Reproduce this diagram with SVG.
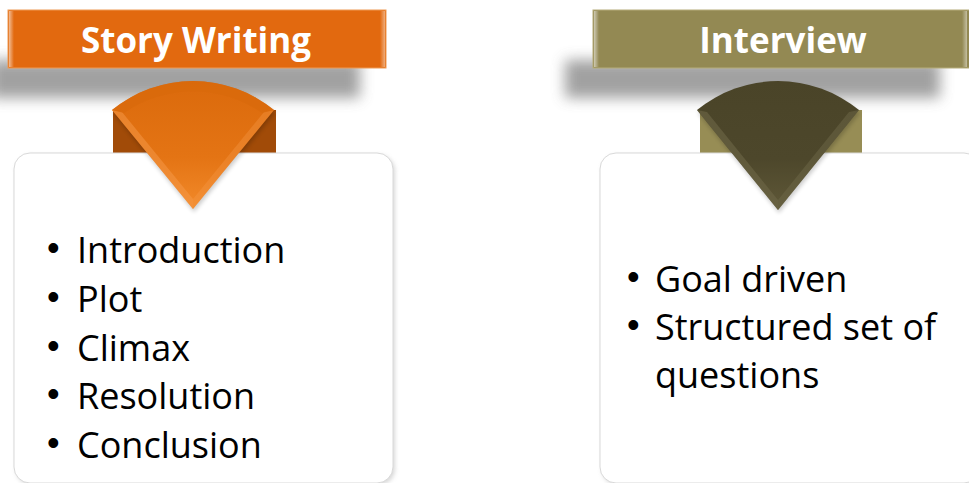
<svg xmlns="http://www.w3.org/2000/svg" width="969" height="483" viewBox="0 0 969 483">
<defs>
<style>
.hdr{font-family:"Open Sans","Liberation Sans",sans-serif;font-weight:bold;font-size:35px;fill:#ffffff;text-anchor:middle}
.item{font-family:"Open Sans","Liberation Sans",sans-serif;font-size:36px;fill:#000000}
.bul{font-family:"Liberation Sans",Arial,sans-serif}
.box{fill:#ffffff;stroke:#d9d9d9;stroke-width:1}
</style>
<filter id="blur" x="-20%" y="-50%" width="140%" height="200%"><feGaussianBlur stdDeviation="7"/></filter>
<filter id="soft" x="-10%" y="-10%" width="120%" height="120%"><feGaussianBlur stdDeviation="2"/></filter>
<linearGradient id="bevelL" x1="0" y1="0" x2="1" y2="0"><stop offset="0" stop-color="#ffffff" stop-opacity="0.55"/><stop offset="1" stop-color="#ffffff" stop-opacity="0"/></linearGradient>
<linearGradient id="bevelR" x1="1" y1="0" x2="0" y2="0"><stop offset="0" stop-color="#ffffff" stop-opacity="0.45"/><stop offset="1" stop-color="#ffffff" stop-opacity="0"/></linearGradient>
<linearGradient id="orFan" x1="0" y1="0" x2="0" y2="1"><stop offset="0" stop-color="#DB6A0C"/><stop offset="0.6" stop-color="#E47414"/><stop offset="1" stop-color="#F28A2A"/></linearGradient>
<linearGradient id="olFan" x1="0" y1="0" x2="0" y2="1"><stop offset="0" stop-color="#4A4428"/><stop offset="0.6" stop-color="#4D472B"/><stop offset="1" stop-color="#5F5838"/></linearGradient>
</defs>

<g id="story-writing">
<rect x="-10" y="60" width="370" height="38" fill="#8a8a8a" opacity="0.8" filter="url(#blur)"/>
<rect x="8" y="10" width="378" height="58" fill="#E2690F" stroke="#EE9A55" stroke-width="1"/>
<rect x="9" y="11" width="5" height="56" fill="url(#bevelL)"/>
<rect x="380" y="11" width="5" height="56" fill="url(#bevelR)"/>
<text class="hdr" x="196" y="53">Story Writing</text>
<rect x="16" y="155" width="379" height="330" rx="16" fill="#bfbfbf" opacity="0.6" filter="url(#soft)"/>
<rect x="113" y="110" width="163" height="44" fill="#A14B08"/>
<rect class="box" x="14" y="153" width="379" height="330" rx="16"/>
<path d="M193,209 L112,110 A128,128 0 0 1 274,110 Z" fill="#000" opacity="0.2" transform="translate(1,3)" filter="url(#soft)"/>
<path d="M193,209 L112,110 A128,128 0 0 1 274,110 Z" fill="url(#orFan)"/>
<path d="M193,209 L112,110 L122,112 L193,199 Z" fill="#F59A4A" opacity="0.5"/>
<path d="M193,209 L274,110 L264,112 L193,199 Z" fill="#F59A4A" opacity="0.35"/>
<path d="M112,110 A128,128 0 0 1 274,110 L262,113 A120,120 0 0 0 124,113 Z" fill="#D86A0C" opacity="0.7"/>
<g class="item">
<text x="47" y="263"><tspan class="bul" dy="-3">•</tspan><tspan x="77" dy="3">Introduction</tspan></text>
<text x="47" y="312"><tspan class="bul" dy="-3">•</tspan><tspan x="77" dy="3">Plot</tspan></text>
<text x="47" y="361"><tspan class="bul" dy="-3">•</tspan><tspan x="77" dy="3">Climax</tspan></text>
<text x="47" y="409"><tspan class="bul" dy="-3">•</tspan><tspan x="77" dy="3">Resolution</tspan></text>
<text x="47" y="458"><tspan class="bul" dy="-3">•</tspan><tspan x="77" dy="3">Conclusion</tspan></text>
</g>
</g>

<g id="interview">
<rect x="565" y="60" width="375" height="38" fill="#8a8a8a" opacity="0.8" filter="url(#blur)"/>
<rect x="593" y="10" width="380" height="58" fill="#938953" stroke="#B5AC7A" stroke-width="1"/>
<rect x="594" y="11" width="5" height="56" fill="url(#bevelL)"/>
<rect x="962" y="11" width="5" height="56" fill="url(#bevelR)"/>
<text class="hdr" x="783" y="53">Interview</text>
<rect x="602" y="155" width="380" height="330" rx="16" fill="#bfbfbf" opacity="0.6" filter="url(#soft)"/>
<rect x="700" y="110" width="162" height="44" fill="#978D55"/>
<rect class="box" x="600" y="153" width="380" height="330" rx="16"/>
<path d="M778,210 L697,110 A128,128 0 0 1 859,110 Z" fill="#000" opacity="0.2" transform="translate(1,3)" filter="url(#soft)"/>
<path d="M778,210 L697,110 A128,128 0 0 1 859,110 Z" fill="url(#olFan)"/>
<path d="M778,210 L697,110 L707,112 L778,200 Z" fill="#6E6848" opacity="0.6"/>
<path d="M778,210 L859,110 L849,112 L778,200 Z" fill="#6E6848" opacity="0.5"/>
<g class="item">
<text x="627" y="292"><tspan class="bul" dy="-3">•</tspan><tspan x="655" dy="3">Goal driven</tspan></text>
<text x="627" y="340"><tspan class="bul" dy="-3">•</tspan><tspan x="655" dy="3">Structured set of</tspan></text>
<text x="655" y="388">questions</text>
</g>
</g>
</svg>
